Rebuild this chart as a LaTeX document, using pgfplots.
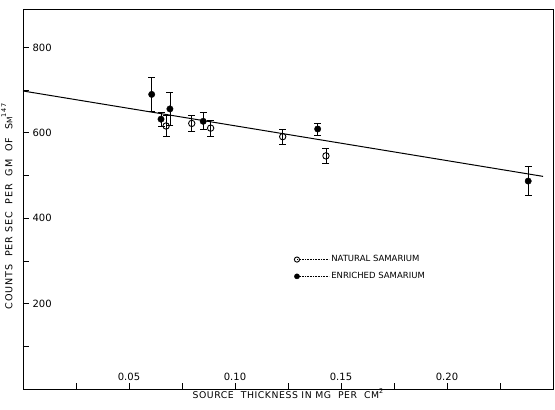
\documentclass[border=0pt]{standalone}
\usepackage{fontspec}
\setmainfont{DejaVu Sans}
\newfontfamily\lblfont[LetterSpace=6]{DejaVu Sans}
\newfontfamily\ylblfont[LetterSpace=9]{DejaVu Sans}
\usepackage{pgfplots}
\pgfplotsset{compat=1.18}

\begin{document}
\begin{tikzpicture}
\useasboundingbox (-23pt,-21pt) rectangle (532pt,389pt);
\begin{axis}[
    scale only axis,
    width=530pt, height=380pt,
    at={(0,0)}, anchor=south west,
    xmin=0, xmax=0.25,
    ymin=0, ymax=890,
    axis line style={line width=0.9pt},
    tick style={black, line width=0.8pt},
    tick align=inside,
    xtick pos=bottom, ytick pos=left,
    major tick length=6pt, minor tick length=6pt,
    xtick={0.05,0.10,0.15,0.20},
    xticklabels={0.05,0.10,0.15,0.20},
    minor xtick={0.025,0.075,0.125,0.175,0.225},
    ytick={200,400,600,800},
    yticklabels={200,400,600,800},
    minor ytick={100,300,500,700},
    xticklabel style={font=\fontsize{10}{12}\selectfont, anchor=south, yshift=5pt},
    yticklabel style={font=\fontsize{10}{12}\selectfont, anchor=west, xshift=6pt},
    xlabel={SOURCE\ \ THICKNESS\ IN\ MG\ \ PER\ \ CM\raisebox{1.1ex}{\fontsize{6.5}{7}\selectfont 2}},
    xlabel style={font=\lblfont\fontsize{9.3}{10}\selectfont, yshift=4pt},
    ylabel={COUNTS\ \ PER\ SEC\ \ PER\ \ GM\ \ OF\ \ S{\fontsize{7.5}{8}\selectfont M}\raisebox{1.2ex}{\fontsize{6.5}{7}\selectfont 147}},
    ylabel style={font=\ylblfont\fontsize{9.6}{10}\selectfont,
        at={(axis description cs:0,0.48)}, anchor=south, yshift=7pt},
    legend style={draw=none, fill=none, font=\fontsize{8.5}{10}\selectfont,
        at={(0.506,0.362)}, anchor=north west, row sep=5pt},
    legend cell align=left,
]
% fitted line
\addplot[line width=1pt, forget plot] coordinates {(0,698) (0.2453,498)};

% natural samarium (open)
\addplot[black, only marks, mark=o, mark size=3.2pt, mark options={fill=white, line width=0.9pt},
    error bars/.cd, y dir=both, y explicit,
    error bar style={line width=0.8pt}, error mark options={black, mark size=3.5pt, line width=0.8pt, rotate=90}]
    table[x=x, y=y, y error=e] {
x       y    e
0.0675  616  25
0.0796  622  18
0.0885  611  19
0.1225  591  18
0.1429  546  18
};
\addlegendentry{NATURAL SAMARIUM}

% enriched samarium (filled)
\addplot[black, only marks, mark=*, mark size=3.2pt,
    error bars/.cd, y dir=both, y explicit,
    error bar style={line width=0.8pt}, error mark options={black, mark size=3.5pt, line width=0.8pt, rotate=90}]
    table[x=x, y=y, y error=e] {
x       y    e
0.0607  690  40
0.0651  632  17
0.0693  656  39
0.0850  627  20
0.1390  609  14
0.2383  487  34
};
\addlegendentry{ENRICHED SAMARIUM}

\pgfplotsset{legend image code/.code={
    \draw[densely dotted, line width=0.6pt] (0pt,0pt) -- (32pt,0pt);
    \draw[#1, mark size=2.6pt] plot coordinates {(0pt,0pt)};}}
\end{axis}
\end{tikzpicture}
\end{document}
